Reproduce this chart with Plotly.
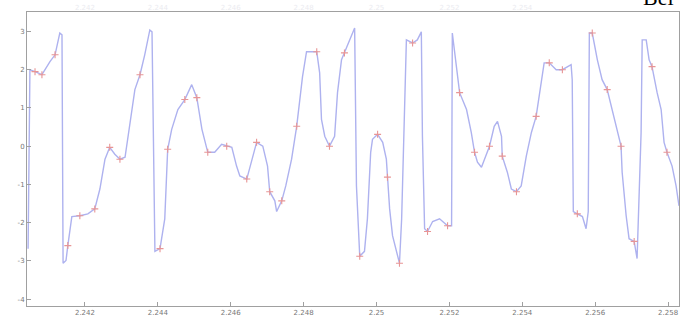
import plotly.graph_objects as go

# signal trace (x in axis units, y in axis units)
sig_x = [2.24044, 2.24049, 2.24063, 2.24082, 2.24104, 2.24118, 2.24131, 2.24137, 2.24140, 2.24148,
         2.24153, 2.24164, 2.24186, 2.24208, 2.24227, 2.24241, 2.24255, 2.24268, 2.24282, 2.24296,
         2.24310, 2.24323, 2.24337, 2.24351, 2.24364, 2.24378, 2.24384, 2.24392, 2.24406, 2.24419,
         2.24427, 2.24438, 2.24455, 2.24474, 2.24493, 2.24507, 2.24521, 2.24537, 2.24556, 2.24575,
         2.24589, 2.24603, 2.24616, 2.24625, 2.24644, 2.24658, 2.24671, 2.24688, 2.24701, 2.24707,
         2.24721, 2.24726, 2.24740, 2.24751, 2.24767, 2.24781, 2.24789, 2.24797, 2.24808, 2.24836,
         2.24844, 2.24849, 2.24858, 2.24871, 2.24885, 2.24893, 2.24904, 2.24912, 2.24926, 2.24940,
         2.24945, 2.24954, 2.24967, 2.24975, 2.24984, 2.24989, 2.25003, 2.25017, 2.25027, 2.25030,
         2.25036, 2.25044, 2.25055, 2.25063, 2.25069, 2.25077, 2.25082, 2.25099, 2.25112, 2.25123,
         2.25126, 2.25132, 2.25140, 2.25154, 2.25173, 2.25195, 2.25206, 2.25208, 2.25228, 2.25247,
         2.25260, 2.25269, 2.25277, 2.25288, 2.25296, 2.25310, 2.25323, 2.25332, 2.25343, 2.25345,
         2.25359, 2.25370, 2.25384, 2.25397, 2.25411, 2.25425, 2.25438, 2.25452, 2.25460, 2.25474,
         2.25493, 2.25510, 2.25534, 2.25537, 2.25540, 2.25551, 2.25565, 2.25575, 2.25581, 2.25584,
         2.25592, 2.25606, 2.25619, 2.25633, 2.25647, 2.25660, 2.25671, 2.25674, 2.25685, 2.25693,
         2.25707, 2.25715, 2.25726, 2.25729, 2.25740, 2.25748, 2.25756, 2.25770, 2.25781, 2.25789,
         2.25797, 2.25811, 2.25822, 2.25830]
sig_y = [-2.68, 2.00, 1.95, 1.87, 2.21, 2.39, 2.96, 2.91, -3.06, -2.99,
         -2.60, -1.84, -1.82, -1.77, -1.64, -1.12, -0.34, -0.03, -0.21, -0.34,
         -0.29, 0.57, 1.48, 1.87, 2.39, 3.04, 2.99, -2.75, -2.68, -1.90,
         -0.08, 0.44, 0.96, 1.22, 1.61, 1.27, 0.44, -0.16, -0.16, 0.05,
         0.00, -0.03, -0.52, -0.78, -0.86, -0.34, 0.10, 0.00, -0.52, -1.19,
         -1.43, -1.71, -1.43, -1.04, -0.34, 0.52, 1.22, 1.82, 2.47, 2.47,
         1.92, 0.70, 0.26, 0.00, 0.26, 1.40, 2.26, 2.44, 2.73, 3.09,
         -1.04, -2.88, -2.75, -1.90, -0.16, 0.18, 0.31, 0.10, -0.34, -0.81,
         -1.64, -2.34, -2.75, -3.06, -1.90, 0.70, 2.78, 2.70, 2.78, 2.99,
         0.26, -2.16, -2.23, -1.97, -1.90, -2.08, -2.08, 2.96, 1.40, 0.96,
         0.36, -0.16, -0.42, -0.55, -0.34, 0.00, 0.52, 0.65, 0.26, -0.26,
         -0.68, -1.12, -1.19, -1.04, -0.26, 0.36, 0.78, 1.66, 2.18, 2.18,
         2.00, 2.00, 2.13, 1.74, -1.71, -1.77, -1.84, -2.16, -1.71, 2.96,
         2.96, 2.26, 1.74, 1.48, 0.96, 0.44, 0.00, -0.68, -1.82, -2.42,
         -2.49, -2.94, 0.36, 2.78, 2.78, 2.26, 2.08, 1.40, 0.96, 0.10,
         -0.16, -0.52, -1.04, -1.56]

# sampled points (red markers)
mk_x = [2.24063, 2.24082, 2.24118, 2.24153, 2.24186, 2.24227, 2.24268, 2.24296, 2.24351, 2.24406,
        2.24427, 2.24474, 2.24507, 2.24537, 2.24589, 2.24644, 2.24671, 2.24707, 2.24740, 2.24781,
        2.24836, 2.24871, 2.24912, 2.24954, 2.25003, 2.25030, 2.25063, 2.25099, 2.25140, 2.25195,
        2.25228, 2.25269, 2.25310, 2.25345, 2.25384, 2.25438, 2.25474, 2.25510, 2.25551, 2.25592,
        2.25633, 2.25671, 2.25707, 2.25756, 2.25797]
mk_y = [1.95, 1.87, 2.39, -2.60, -1.82, -1.64, -0.03, -0.34, 1.87, -2.68,
        -0.08, 1.22, 1.27, -0.16, 0.00, -0.86, 0.10, -1.19, -1.43, 0.52,
        2.47, 0.00, 2.44, -2.88, 0.31, -0.81, -3.06, 2.70, -2.23, -2.08,
        1.40, -0.16, 0.00, -0.26, -1.19, 0.78, 2.18, 2.00, -1.77, 2.96,
        1.48, 0.00, -2.49, 2.08, -0.16]

x_ticks = [2.242, 2.244, 2.246, 2.248, 2.250, 2.252, 2.254, 2.256, 2.258]
x_tick_text = ["2.242", "2.244", "2.246", "2.248", "2.25", "2.252", "2.254", "2.256", "2.258"]
y_ticks = [3, 2, 1, 0, -1, -2, -3, -4]
y_tick_text = ["3", "2", "1", "0", "-1", "-2", "-3", "-4"]

fig = go.Figure()
fig.add_trace(go.Scatter(x=sig_x, y=sig_y, mode="lines",
                         line=dict(color="#aeb2ef", width=1.4), showlegend=False))
fig.add_trace(go.Scatter(x=mk_x, y=mk_y, mode="markers",
                         marker=dict(symbol="cross-thin", size=5,
                                     line=dict(color="#e89595", width=1.1)),
                         showlegend=False))
# faint ghost labels along the top
fig.add_trace(go.Scatter(x=[x_ticks[0]], y=[None], xaxis="x2", showlegend=False))

fig.update_layout(
    width=683, height=320,
    margin=dict(l=27, r=3, t=12, b=12),
    paper_bgcolor="white", plot_bgcolor="white",
    xaxis=dict(range=[2.24041, 2.25830], tickvals=x_ticks, ticktext=x_tick_text,
               showgrid=False, zeroline=False, showline=True, linecolor="#a0a0a0",
               linewidth=1, mirror=True, ticks="inside", ticklen=4, tickcolor="#a0a0a0",
               tickfont=dict(family="DejaVu Sans", size=7, color="#777777")),
    xaxis2=dict(range=[2.24041, 2.25830], tickvals=x_ticks[:7], ticktext=x_tick_text[:7],
                overlaying="x", side="top", showgrid=False, zeroline=False,
                ticks="", tickfont=dict(family="DejaVu Sans", size=7, color="#ebebf0")),
    yaxis=dict(range=[-4.18, 3.51], tickvals=y_ticks, ticktext=y_tick_text,
               showgrid=False, zeroline=False, showline=True, linecolor="#a0a0a0",
               linewidth=1, mirror=True, ticks="inside", ticklen=4, tickcolor="#a0a0a0",
               tickfont=dict(family="DejaVu Sans", size=7, color="#777777")),
    annotations=[dict(text="Bei", xref="paper", yref="paper", x=0.942, y=1.0,
                      xanchor="left", yanchor="bottom", showarrow=False,
                      font=dict(family="Liberation Serif", size=22, color="black"))],
)

fig.write_html("out.html")
